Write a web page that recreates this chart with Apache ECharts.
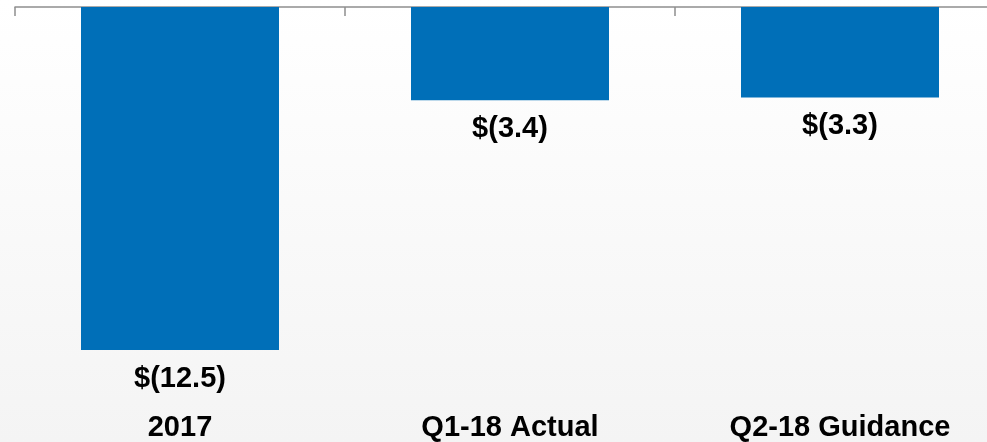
<!DOCTYPE html>
<html>
<head>
<meta charset="utf-8">
<script src="https://cdn.jsdelivr.net/npm/echarts@6/dist/echarts.min.js"></script>
<style>
html,body{margin:0;padding:0;overflow:hidden;width:987px;height:442px;}
#chart{width:1005px;height:442px;}
</style>
</head>
<body>
<div id="chart"></div>
<script>
var categories = ['2017', 'Q1-18 Actual', 'Q2-18 Guidance'];
var values = [-12.5, -3.4, -3.3];
var valueLabels = ['$(12.5)', '$(3.4)', '$(3.3)'];

var chart = echarts.init(document.getElementById('chart'), null, {renderer: 'canvas'});
var font = 'Arial, "Liberation Sans", sans-serif';
chart.setOption({
  animation: false,
  backgroundColor: {
    type: 'linear', x: 0, y: 0, x2: 0, y2: 1,
    colorStops: [{offset: 0, color: '#ffffff'}, {offset: 1, color: '#f4f4f4'}]
  },
  grid: {left: 15, top: 7, right: 0, bottom: 35, containLabel: false},
  xAxis: [{
    type: 'category',
    data: categories,
    position: 'top',
    axisLine: {show: true, lineStyle: {color: '#8f8f8f', width: 1.5}},
    axisTick: {show: true, inside: true, length: 9, lineStyle: {color: '#8f8f8f', width: 1.5}},
    axisLabel: {show: false}
  }, {
    type: 'category',
    data: categories,
    position: 'bottom',
    axisLine: {show: false},
    axisTick: {show: false},
    axisLabel: {
      show: true, margin: 8, color: '#000', fontWeight: 'bold',
      fontSize: 29, fontFamily: font, interval: 0
    }
  }],
  yAxis: {
    type: 'value', max: 0, min: -14.5, show: false,
    splitLine: {show: false}
  },
  series: [{
    type: 'bar',
    xAxisIndex: 0,
    data: values,
    barWidth: '60%',
    itemStyle: {color: '#006fb8'},
    label: {
      show: true, position: 'bottom', distance: 14,
      color: '#000', fontWeight: 'bold', fontSize: 29, fontFamily: font,
      formatter: function (p) { return valueLabels[p.dataIndex]; }
    }
  }]
});
</script>
</body>
</html>
